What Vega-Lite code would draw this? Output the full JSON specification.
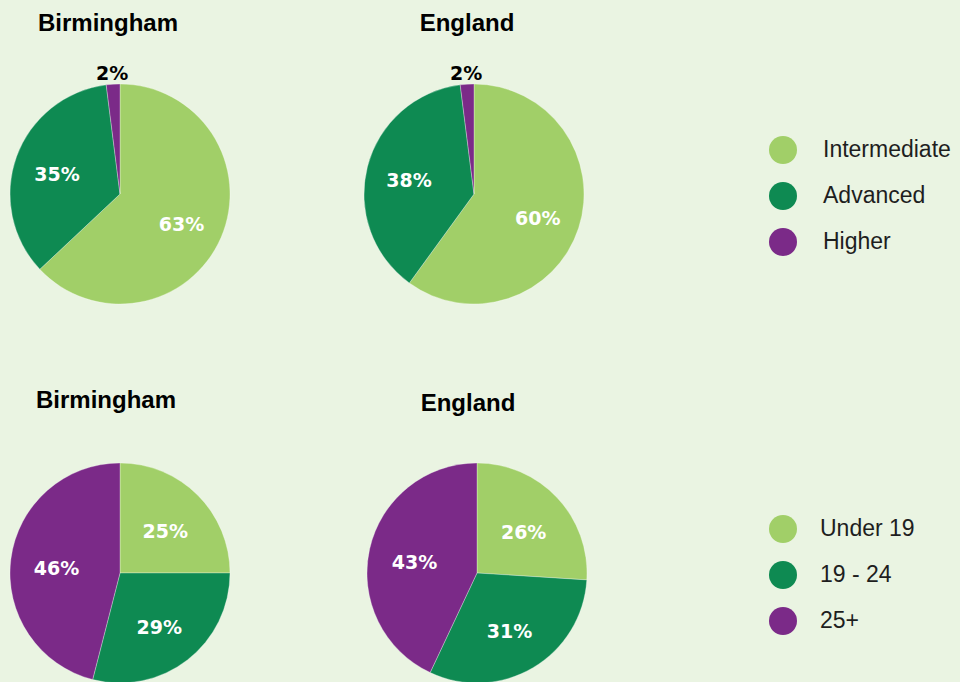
{
  "$schema": "https://vega.github.io/schema/vega-lite/v6.json",
  "background": "#eaf4e2",
  "padding": {"left": 0, "top": 12, "right": 10, "bottom": 0},
  "config": {
    "view": {"stroke": null},
    "title": {"font": "Liberation Sans", "fontSize": 24, "fontWeight": "bold", "color": "#000000", "anchor": "middle", "offset": 18},
    "legend": {
      "orient": "none",
      "title": null,
      "symbolType": "circle",
      "symbolSize": 784,
      "symbolStrokeWidth": 0,
      "symbolOpacity": 1,
      "labelFont": "Liberation Sans",
      "labelFontSize": 23,
      "labelColor": "#1e1e1e",
      "labelOffset": 26,
      "rowPadding": 18,
      "padding": 0
    }
  },
  "datasets": {
    "qual": [
      {"place": "Birmingham", "type": "Intermediate", "order": 1, "value": 0.63},
      {"place": "Birmingham", "type": "Advanced", "order": 2, "value": 0.35},
      {"place": "Birmingham", "type": "Higher", "order": 3, "value": 0.02},
      {"place": "England", "type": "Intermediate", "order": 1, "value": 0.60},
      {"place": "England", "type": "Advanced", "order": 2, "value": 0.38},
      {"place": "England", "type": "Higher", "order": 3, "value": 0.02}
    ],
    "age": [
      {"place": "Birmingham", "group": "Under 19", "order": 1, "value": 0.25},
      {"place": "Birmingham", "group": "19 - 24", "order": 2, "value": 0.29},
      {"place": "Birmingham", "group": "25+", "order": 3, "value": 0.46},
      {"place": "England", "group": "Under 19", "order": 1, "value": 0.26},
      {"place": "England", "group": "19 - 24", "order": 2, "value": 0.31},
      {"place": "England", "group": "25+", "order": 3, "value": 0.43}
    ]
  },
  "vconcat": [
    {
      "spacing": 114,
      "hconcat": [
        {
          "width": 240, "height": 280,
          "title": {"text": "Birmingham", "dx": -12},
          "data": {"name": "qual"},
          "transform": [{"filter": "datum.place === 'Birmingham'"}],
          "encoding": {
            "theta": {"field": "value", "type": "quantitative", "stack": true},
            "order": {"field": "order", "type": "quantitative"}
          },
          "layer": [
            {
              "mark": {"type": "arc", "outerRadius": 110, "stroke": "#ffffff", "strokeWidth": 0.5, "strokeOpacity": 0.6},
              "encoding": {
                "color": {"field": "type", "type": "nominal",
                  "scale": {"domain": ["Intermediate", "Advanced", "Higher"], "range": ["#a1cf68", "#0e8a52", "#7b2a88"]},
                  "legend": {"legendX": 769, "legendY": 82}}
              }
            },
            {
              "mark": {"type": "text", "font": "DejaVu Sans", "fontWeight": "bold", "fontSize": 19, "dy": 4},
              "encoding": {
                "radius": {"field": "value", "type": "quantitative", "scale": {"type": "linear", "domain": [0.02, 0.35], "range": [124, 67], "clamp": true, "zero": false, "nice": false}},
                "text": {"field": "value", "type": "quantitative", "format": ".0%"},
                "color": {"condition": {"test": "datum.value < 0.05", "value": "#000000"}, "value": "#ffffff"}
              }
            }
          ]
        },
        {
          "width": 240, "height": 280,
          "title": {"text": "England", "dx": -7},
          "data": {"name": "qual"},
          "transform": [{"filter": "datum.place === 'England'"}],
          "encoding": {
            "theta": {"field": "value", "type": "quantitative", "stack": true},
            "order": {"field": "order", "type": "quantitative"}
          },
          "layer": [
            {
              "mark": {"type": "arc", "outerRadius": 110, "stroke": "#ffffff", "strokeWidth": 0.5, "strokeOpacity": 0.6},
              "encoding": {
                "color": {"field": "type", "type": "nominal",
                  "scale": {"domain": ["Intermediate", "Advanced", "Higher"], "range": ["#a1cf68", "#0e8a52", "#7b2a88"]},
                  "legend": {"legendX": 769, "legendY": 82}}
              }
            },
            {
              "mark": {"type": "text", "font": "DejaVu Sans", "fontWeight": "bold", "fontSize": 19, "dy": 4},
              "encoding": {
                "radius": {"field": "value", "type": "quantitative", "scale": {"type": "linear", "domain": [0.02, 0.35], "range": [124, 67], "clamp": true, "zero": false, "nice": false}},
                "text": {"field": "value", "type": "quantitative", "format": ".0%"},
                "color": {"condition": {"test": "datum.value < 0.05", "value": "#000000"}, "value": "#ffffff"}
              }
            }
          ]
        }
      ]
    },
    {
      "spacing": 117,
      "hconcat": [
        {
          "width": 240, "height": 220,
          "title": {"text": "Birmingham", "dx": -14, "offset": 49},
          "data": {"name": "age"},
          "transform": [{"filter": "datum.place === 'Birmingham'"}],
          "encoding": {
            "theta": {"field": "value", "type": "quantitative", "stack": true},
            "order": {"field": "order", "type": "quantitative"}
          },
          "layer": [
            {
              "mark": {"type": "arc", "outerRadius": 110, "stroke": "#ffffff", "strokeWidth": 0.5, "strokeOpacity": 0.6},
              "encoding": {
                "color": {"field": "group", "type": "nominal",
                  "scale": {"domain": ["Under 19", "19 - 24", "25+"], "range": ["#a1cf68", "#0e8a52", "#7b2a88"]},
                  "legend": {"legendX": 769, "legendY": 52, "labelOffset": 23}}
              }
            },
            {
              "mark": {"type": "text", "font": "DejaVu Sans", "fontWeight": "bold", "fontSize": 19, "radius": 64, "dy": 4},
              "encoding": {
                "text": {"field": "value", "type": "quantitative", "format": ".0%"},
                "color": {"value": "#ffffff"}
              }
            }
          ]
        },
        {
          "width": 240, "height": 220,
          "title": {"text": "England", "dx": -9, "dy": 3, "offset": 49},
          "data": {"name": "age"},
          "transform": [{"filter": "datum.place === 'England'"}],
          "encoding": {
            "theta": {"field": "value", "type": "quantitative", "stack": true},
            "order": {"field": "order", "type": "quantitative"}
          },
          "layer": [
            {
              "mark": {"type": "arc", "outerRadius": 110, "stroke": "#ffffff", "strokeWidth": 0.5, "strokeOpacity": 0.6},
              "encoding": {
                "color": {"field": "group", "type": "nominal",
                  "scale": {"domain": ["Under 19", "19 - 24", "25+"], "range": ["#a1cf68", "#0e8a52", "#7b2a88"]},
                  "legend": {"legendX": 769, "legendY": 52, "labelOffset": 23}}
              }
            },
            {
              "mark": {"type": "text", "font": "DejaVu Sans", "fontWeight": "bold", "fontSize": 19, "radius": 64, "dy": 4},
              "encoding": {
                "text": {"field": "value", "type": "quantitative", "format": ".0%"},
                "color": {"value": "#ffffff"}
              }
            }
          ]
        }
      ]
    }
  ],
  "spacing": 55,
  "resolve": {"scale": {"color": "independent", "theta": "independent", "radius": "independent"}, "legend": {"color": "independent"}}
}
